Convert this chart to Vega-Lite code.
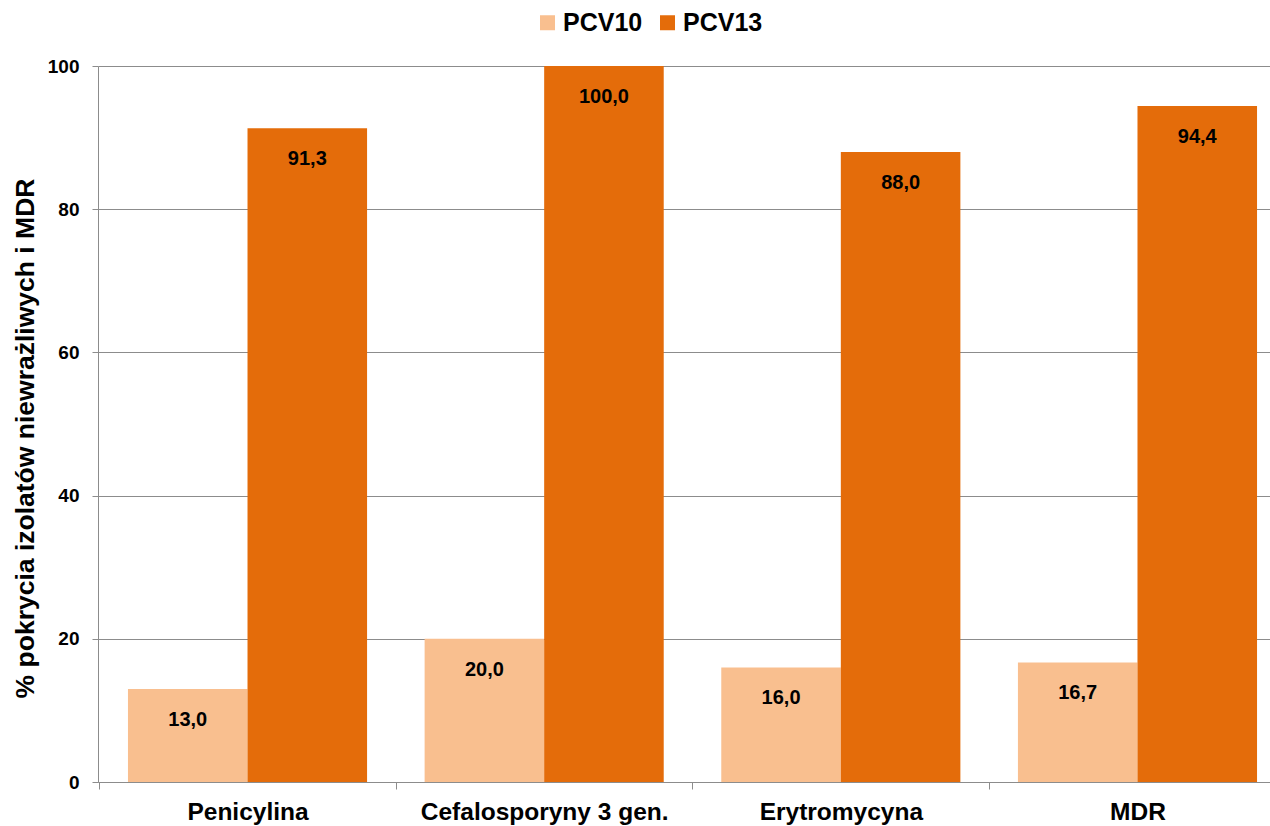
{
  "$schema": "https://vega.github.io/schema/vega-lite/v6.json",
  "width": 1172,
  "height": 716,
  "autosize": {"type": "none"},
  "padding": {"left": 98, "top": 66, "right": 0, "bottom": 44},
  "config": {
    "view": {"stroke": null},
    "font": "Liberation Sans",
    "locale": {"number": {"decimal": ",", "thousands": " ", "grouping": [3], "currency": ["", " zł"]}}
  },
  "data": {
    "values": [
      {"kategoria": "Penicylina", "szczepionka": "PCV10", "wartosc": 13.0},
      {"kategoria": "Penicylina", "szczepionka": "PCV13", "wartosc": 91.3},
      {"kategoria": "Cefalosporyny 3 gen.", "szczepionka": "PCV10", "wartosc": 20.0},
      {"kategoria": "Cefalosporyny 3 gen.", "szczepionka": "PCV13", "wartosc": 100.0},
      {"kategoria": "Erytromycyna", "szczepionka": "PCV10", "wartosc": 16.0},
      {"kategoria": "Erytromycyna", "szczepionka": "PCV13", "wartosc": 88.0},
      {"kategoria": "MDR", "szczepionka": "PCV10", "wartosc": 16.7},
      {"kategoria": "MDR", "szczepionka": "PCV13", "wartosc": 94.4}
    ]
  },
  "encoding": {
    "x": {
      "field": "kategoria",
      "type": "nominal",
      "sort": null,
      "scale": {"paddingInner": 0.194, "paddingOuter": 0.101, "range": [0, 1189]},
      "axis": {
        "title": null,
        "labelAngle": 0,
        "labelFont": "Liberation Sans",
        "labelFontWeight": "bold",
        "labelFontSize": 24.5,
        "labelColor": "#000000",
        "labelPadding": 11,
        "labelLimit": 0,
        "bandPosition": 0,
        "tickOffset": -29,
        "labelOffset": 29,
        "tickSize": 7,
        "tickColor": "#8c8c8c",
        "domainColor": "#8c8c8c",
        "grid": false
      }
    },
    "xOffset": {"field": "szczepionka", "type": "nominal", "scale": {"paddingInner": 0, "paddingOuter": 0}},
    "y": {
      "field": "wartosc",
      "type": "quantitative",
      "scale": {"domain": [0, 100], "nice": false},
      "axis": {
        "title": "% pokrycia izolatów niewrażliwych i MDR",
        "titleFont": "Liberation Sans",
        "titleFontSize": 26.5,
        "titleFontWeight": "bold",
        "titleColor": "#000000",
        "titlePadding": 8,
        "titleY": 372,
        "values": [0, 20, 40, 60, 80, 100],
        "labelFont": "Liberation Sans",
        "labelFontSize": 19,
        "labelFontWeight": "bold",
        "labelColor": "#000000",
        "labelPadding": 13,
        "tickSize": 6,
        "tickColor": "#8c8c8c",
        "domainColor": "#8c8c8c",
        "gridColor": "#8c8c8c",
        "gridWidth": 1
      }
    }
  },
  "layer": [
    {
      "mark": {"type": "bar"},
      "encoding": {
        "color": {
          "field": "szczepionka",
          "type": "nominal",
          "scale": {"domain": ["PCV10", "PCV13"], "range": ["#F9BF8F", "#E46C0A"]},
          "legend": {
            "title": null,
            "orient": "none",
            "direction": "horizontal",
            "legendX": 437,
            "legendY": -56,
            "symbolType": "square",
            "symbolSize": 225,
            "symbolStrokeWidth": 0,
            "labelFont": "Liberation Sans",
            "labelFontSize": 25,
            "labelFontWeight": "bold",
            "labelColor": "#000000",
            "labelOffset": 3,
            "columnPadding": 12
          }
        }
      }
    },
    {
      "mark": {"type": "text", "baseline": "middle", "dy": 31, "fontSize": 20, "fontWeight": "bold", "font": "Liberation Sans", "color": "#000000"},
      "encoding": {
        "text": {"field": "wartosc", "type": "quantitative", "format": ".1f"}
      }
    }
  ]
}
